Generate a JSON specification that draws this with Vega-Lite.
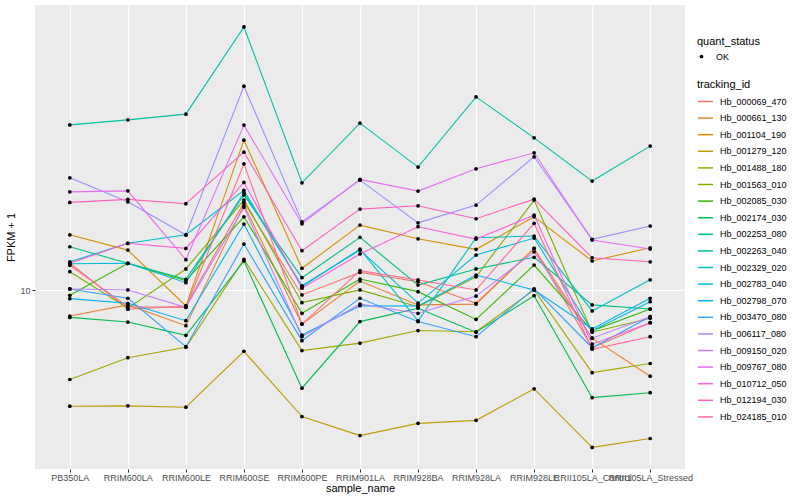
{
  "$schema": "https://vega.github.io/schema/vega-lite/v6.json",
  "autosize": {"type": "none"},
  "width": 650,
  "height": 464,
  "padding": {"left": 35, "top": 5, "right": 115, "bottom": 31},
  "background": "white",
  "config": {
    "font": "Liberation Sans",
    "view": {"fill": "#EBEBEB", "stroke": null},
    "axis": {
      "domain": false,
      "grid": true,
      "gridColor": "#FFFFFF",
      "gridWidth": 1.1,
      "tickColor": "#333333",
      "tickSize": 3,
      "labelColor": "#4D4D4D",
      "labelFontSize": 9,
      "titleFontSize": 11,
      "titleFontWeight": "normal",
      "titleColor": "#000000"
    },
    "legend": {
      "titleFontSize": 11,
      "titleFontWeight": "normal",
      "titleColor": "#000000",
      "labelFontSize": 9,
      "labelColor": "#000000"
    }
  },
  "data": {
    "values": [
      {"tracking_id": "Hb_000069_470", "sample_name": "PB350LA", "fpkm": 11.55, "quant_status": "OK"},
      {"tracking_id": "Hb_000069_470", "sample_name": "RRIM600LA", "fpkm": 9.05, "quant_status": "OK"},
      {"tracking_id": "Hb_000069_470", "sample_name": "RRIM600LE", "fpkm": 9.21, "quant_status": "OK"},
      {"tracking_id": "Hb_000069_470", "sample_name": "RRIM600SE", "fpkm": 15.89, "quant_status": "OK"},
      {"tracking_id": "Hb_000069_470", "sample_name": "RRIM600PE", "fpkm": 9.76, "quant_status": "OK"},
      {"tracking_id": "Hb_000069_470", "sample_name": "RRIM901LA", "fpkm": 10.99, "quant_status": "OK"},
      {"tracking_id": "Hb_000069_470", "sample_name": "RRIM928BA", "fpkm": 10.46, "quant_status": "OK"},
      {"tracking_id": "Hb_000069_470", "sample_name": "RRIM928LA", "fpkm": 9.34, "quant_status": "OK"},
      {"tracking_id": "Hb_000069_470", "sample_name": "RRIM928LE", "fpkm": 12.47, "quant_status": "OK"},
      {"tracking_id": "Hb_000069_470", "sample_name": "RRII105LA_Control", "fpkm": 7.39, "quant_status": "OK"},
      {"tracking_id": "Hb_000069_470", "sample_name": "RRII105LA_Stressed", "fpkm": 8.43, "quant_status": "OK"},

      {"tracking_id": "Hb_000661_130", "sample_name": "PB350LA", "fpkm": 8.73, "quant_status": "OK"},
      {"tracking_id": "Hb_000661_130", "sample_name": "RRIM600LA", "fpkm": 9.26, "quant_status": "OK"},
      {"tracking_id": "Hb_000661_130", "sample_name": "RRIM600LE", "fpkm": 8.30, "quant_status": "OK"},
      {"tracking_id": "Hb_000661_130", "sample_name": "RRIM600SE", "fpkm": 15.67, "quant_status": "OK"},
      {"tracking_id": "Hb_000661_130", "sample_name": "RRIM600PE", "fpkm": 8.37, "quant_status": "OK"},
      {"tracking_id": "Hb_000661_130", "sample_name": "RRIM901LA", "fpkm": 10.50, "quant_status": "OK"},
      {"tracking_id": "Hb_000661_130", "sample_name": "RRIM928BA", "fpkm": 9.26, "quant_status": "OK"},
      {"tracking_id": "Hb_000661_130", "sample_name": "RRIM928LA", "fpkm": 9.30, "quant_status": "OK"},
      {"tracking_id": "Hb_000661_130", "sample_name": "RRIM928LE", "fpkm": 12.47, "quant_status": "OK"},
      {"tracking_id": "Hb_000661_130", "sample_name": "RRII105LA_Control", "fpkm": 7.77, "quant_status": "OK"},
      {"tracking_id": "Hb_000661_130", "sample_name": "RRII105LA_Stressed", "fpkm": 6.36, "quant_status": "OK"},

      {"tracking_id": "Hb_001104_190", "sample_name": "PB350LA", "fpkm": 13.40, "quant_status": "OK"},
      {"tracking_id": "Hb_001104_190", "sample_name": "RRIM600LA", "fpkm": 12.36, "quant_status": "OK"},
      {"tracking_id": "Hb_001104_190", "sample_name": "RRIM600LE", "fpkm": 9.21, "quant_status": "OK"},
      {"tracking_id": "Hb_001104_190", "sample_name": "RRIM600SE", "fpkm": 22.06, "quant_status": "OK"},
      {"tracking_id": "Hb_001104_190", "sample_name": "RRIM600PE", "fpkm": 11.23, "quant_status": "OK"},
      {"tracking_id": "Hb_001104_190", "sample_name": "RRIM901LA", "fpkm": 14.10, "quant_status": "OK"},
      {"tracking_id": "Hb_001104_190", "sample_name": "RRIM928BA", "fpkm": 13.12, "quant_status": "OK"},
      {"tracking_id": "Hb_001104_190", "sample_name": "RRIM928LA", "fpkm": 12.41, "quant_status": "OK"},
      {"tracking_id": "Hb_001104_190", "sample_name": "RRIM928LE", "fpkm": 14.73, "quant_status": "OK"},
      {"tracking_id": "Hb_001104_190", "sample_name": "RRII105LA_Control", "fpkm": 11.67, "quant_status": "OK"},
      {"tracking_id": "Hb_001104_190", "sample_name": "RRII105LA_Stressed", "fpkm": 12.51, "quant_status": "OK"},

      {"tracking_id": "Hb_001279_120", "sample_name": "PB350LA", "fpkm": 5.43, "quant_status": "OK"},
      {"tracking_id": "Hb_001279_120", "sample_name": "RRIM600LA", "fpkm": 5.44, "quant_status": "OK"},
      {"tracking_id": "Hb_001279_120", "sample_name": "RRIM600LE", "fpkm": 5.40, "quant_status": "OK"},
      {"tracking_id": "Hb_001279_120", "sample_name": "RRIM600SE", "fpkm": 7.25, "quant_status": "OK"},
      {"tracking_id": "Hb_001279_120", "sample_name": "RRIM600PE", "fpkm": 5.14, "quant_status": "OK"},
      {"tracking_id": "Hb_001279_120", "sample_name": "RRIM901LA", "fpkm": 4.65, "quant_status": "OK"},
      {"tracking_id": "Hb_001279_120", "sample_name": "RRIM928BA", "fpkm": 4.96, "quant_status": "OK"},
      {"tracking_id": "Hb_001279_120", "sample_name": "RRIM928LA", "fpkm": 5.04, "quant_status": "OK"},
      {"tracking_id": "Hb_001279_120", "sample_name": "RRIM928LE", "fpkm": 5.95, "quant_status": "OK"},
      {"tracking_id": "Hb_001279_120", "sample_name": "RRII105LA_Control", "fpkm": 4.37, "quant_status": "OK"},
      {"tracking_id": "Hb_001279_120", "sample_name": "RRII105LA_Stressed", "fpkm": 4.58, "quant_status": "OK"},

      {"tracking_id": "Hb_001488_180", "sample_name": "PB350LA", "fpkm": 6.25, "quant_status": "OK"},
      {"tracking_id": "Hb_001488_180", "sample_name": "RRIM600LA", "fpkm": 7.01, "quant_status": "OK"},
      {"tracking_id": "Hb_001488_180", "sample_name": "RRIM600LE", "fpkm": 7.41, "quant_status": "OK"},
      {"tracking_id": "Hb_001488_180", "sample_name": "RRIM600SE", "fpkm": 11.77, "quant_status": "OK"},
      {"tracking_id": "Hb_001488_180", "sample_name": "RRIM600PE", "fpkm": 7.28, "quant_status": "OK"},
      {"tracking_id": "Hb_001488_180", "sample_name": "RRIM901LA", "fpkm": 7.57, "quant_status": "OK"},
      {"tracking_id": "Hb_001488_180", "sample_name": "RRIM928BA", "fpkm": 8.09, "quant_status": "OK"},
      {"tracking_id": "Hb_001488_180", "sample_name": "RRIM928LA", "fpkm": 8.04, "quant_status": "OK"},
      {"tracking_id": "Hb_001488_180", "sample_name": "RRIM928LE", "fpkm": 10.02, "quant_status": "OK"},
      {"tracking_id": "Hb_001488_180", "sample_name": "RRII105LA_Control", "fpkm": 6.48, "quant_status": "OK"},
      {"tracking_id": "Hb_001488_180", "sample_name": "RRII105LA_Stressed", "fpkm": 6.80, "quant_status": "OK"},

      {"tracking_id": "Hb_001563_010", "sample_name": "PB350LA", "fpkm": 11.03, "quant_status": "OK"},
      {"tracking_id": "Hb_001563_010", "sample_name": "RRIM600LA", "fpkm": 9.10, "quant_status": "OK"},
      {"tracking_id": "Hb_001563_010", "sample_name": "RRIM600LE", "fpkm": 11.19, "quant_status": "OK"},
      {"tracking_id": "Hb_001563_010", "sample_name": "RRIM600SE", "fpkm": 16.09, "quant_status": "OK"},
      {"tracking_id": "Hb_001563_010", "sample_name": "RRIM600PE", "fpkm": 9.37, "quant_status": "OK"},
      {"tracking_id": "Hb_001563_010", "sample_name": "RRIM901LA", "fpkm": 10.02, "quant_status": "OK"},
      {"tracking_id": "Hb_001563_010", "sample_name": "RRIM928BA", "fpkm": 9.17, "quant_status": "OK"},
      {"tracking_id": "Hb_001563_010", "sample_name": "RRIM928LA", "fpkm": 10.74, "quant_status": "OK"},
      {"tracking_id": "Hb_001563_010", "sample_name": "RRIM928LE", "fpkm": 16.09, "quant_status": "OK"},
      {"tracking_id": "Hb_001563_010", "sample_name": "RRII105LA_Control", "fpkm": 8.02, "quant_status": "OK"},
      {"tracking_id": "Hb_001563_010", "sample_name": "RRII105LA_Stressed", "fpkm": 8.63, "quant_status": "OK"},

      {"tracking_id": "Hb_002085_030", "sample_name": "PB350LA", "fpkm": 9.74, "quant_status": "OK"},
      {"tracking_id": "Hb_002085_030", "sample_name": "RRIM600LA", "fpkm": 11.53, "quant_status": "OK"},
      {"tracking_id": "Hb_002085_030", "sample_name": "RRIM600LE", "fpkm": 10.52, "quant_status": "OK"},
      {"tracking_id": "Hb_002085_030", "sample_name": "RRIM600SE", "fpkm": 14.73, "quant_status": "OK"},
      {"tracking_id": "Hb_002085_030", "sample_name": "RRIM600PE", "fpkm": 8.86, "quant_status": "OK"},
      {"tracking_id": "Hb_002085_030", "sample_name": "RRIM901LA", "fpkm": 10.61, "quant_status": "OK"},
      {"tracking_id": "Hb_002085_030", "sample_name": "RRIM928BA", "fpkm": 9.93, "quant_status": "OK"},
      {"tracking_id": "Hb_002085_030", "sample_name": "RRIM928LA", "fpkm": 8.58, "quant_status": "OK"},
      {"tracking_id": "Hb_002085_030", "sample_name": "RRIM928LE", "fpkm": 11.42, "quant_status": "OK"},
      {"tracking_id": "Hb_002085_030", "sample_name": "RRII105LA_Control", "fpkm": 8.08, "quant_status": "OK"},
      {"tracking_id": "Hb_002085_030", "sample_name": "RRII105LA_Stressed", "fpkm": 9.06, "quant_status": "OK"},

      {"tracking_id": "Hb_002174_030", "sample_name": "PB350LA", "fpkm": 8.67, "quant_status": "OK"},
      {"tracking_id": "Hb_002174_030", "sample_name": "RRIM600LA", "fpkm": 8.46, "quant_status": "OK"},
      {"tracking_id": "Hb_002174_030", "sample_name": "RRIM600LE", "fpkm": 7.89, "quant_status": "OK"},
      {"tracking_id": "Hb_002174_030", "sample_name": "RRIM600SE", "fpkm": 11.67, "quant_status": "OK"},
      {"tracking_id": "Hb_002174_030", "sample_name": "RRIM600PE", "fpkm": 5.97, "quant_status": "OK"},
      {"tracking_id": "Hb_002174_030", "sample_name": "RRIM901LA", "fpkm": 8.48, "quant_status": "OK"},
      {"tracking_id": "Hb_002174_030", "sample_name": "RRIM928BA", "fpkm": 9.10, "quant_status": "OK"},
      {"tracking_id": "Hb_002174_030", "sample_name": "RRIM928LA", "fpkm": 8.02, "quant_status": "OK"},
      {"tracking_id": "Hb_002174_030", "sample_name": "RRIM928LE", "fpkm": 9.72, "quant_status": "OK"},
      {"tracking_id": "Hb_002174_030", "sample_name": "RRII105LA_Control", "fpkm": 5.68, "quant_status": "OK"},
      {"tracking_id": "Hb_002174_030", "sample_name": "RRII105LA_Stressed", "fpkm": 5.83, "quant_status": "OK"},

      {"tracking_id": "Hb_002253_080", "sample_name": "PB350LA", "fpkm": 12.58, "quant_status": "OK"},
      {"tracking_id": "Hb_002253_080", "sample_name": "RRIM600LA", "fpkm": 11.53, "quant_status": "OK"},
      {"tracking_id": "Hb_002253_080", "sample_name": "RRIM600LE", "fpkm": 10.60, "quant_status": "OK"},
      {"tracking_id": "Hb_002253_080", "sample_name": "RRIM600SE", "fpkm": 16.52, "quant_status": "OK"},
      {"tracking_id": "Hb_002253_080", "sample_name": "RRIM600PE", "fpkm": 10.69, "quant_status": "OK"},
      {"tracking_id": "Hb_002253_080", "sample_name": "RRIM901LA", "fpkm": 13.22, "quant_status": "OK"},
      {"tracking_id": "Hb_002253_080", "sample_name": "RRIM928BA", "fpkm": 10.28, "quant_status": "OK"},
      {"tracking_id": "Hb_002253_080", "sample_name": "RRIM928LA", "fpkm": 11.19, "quant_status": "OK"},
      {"tracking_id": "Hb_002253_080", "sample_name": "RRIM928LE", "fpkm": 11.90, "quant_status": "OK"},
      {"tracking_id": "Hb_002253_080", "sample_name": "RRII105LA_Control", "fpkm": 9.26, "quant_status": "OK"},
      {"tracking_id": "Hb_002253_080", "sample_name": "RRII105LA_Stressed", "fpkm": 9.06, "quant_status": "OK"},

      {"tracking_id": "Hb_002263_040", "sample_name": "PB350LA", "fpkm": 23.91, "quant_status": "OK"},
      {"tracking_id": "Hb_002263_040", "sample_name": "RRIM600LA", "fpkm": 24.55, "quant_status": "OK"},
      {"tracking_id": "Hb_002263_040", "sample_name": "RRIM600LE", "fpkm": 25.30, "quant_status": "OK"},
      {"tracking_id": "Hb_002263_040", "sample_name": "RRIM600SE", "fpkm": 40.06, "quant_status": "OK"},
      {"tracking_id": "Hb_002263_040", "sample_name": "RRIM600PE", "fpkm": 17.62, "quant_status": "OK"},
      {"tracking_id": "Hb_002263_040", "sample_name": "RRIM901LA", "fpkm": 24.13, "quant_status": "OK"},
      {"tracking_id": "Hb_002263_040", "sample_name": "RRIM928BA", "fpkm": 19.14, "quant_status": "OK"},
      {"tracking_id": "Hb_002263_040", "sample_name": "RRIM928LA", "fpkm": 27.71, "quant_status": "OK"},
      {"tracking_id": "Hb_002263_040", "sample_name": "RRIM928LE", "fpkm": 22.33, "quant_status": "OK"},
      {"tracking_id": "Hb_002263_040", "sample_name": "RRII105LA_Control", "fpkm": 17.78, "quant_status": "OK"},
      {"tracking_id": "Hb_002263_040", "sample_name": "RRII105LA_Stressed", "fpkm": 21.38, "quant_status": "OK"},

      {"tracking_id": "Hb_002329_020", "sample_name": "PB350LA", "fpkm": 11.62, "quant_status": "OK"},
      {"tracking_id": "Hb_002329_020", "sample_name": "RRIM600LA", "fpkm": 12.81, "quant_status": "OK"},
      {"tracking_id": "Hb_002329_020", "sample_name": "RRIM600LE", "fpkm": 13.40, "quant_status": "OK"},
      {"tracking_id": "Hb_002329_020", "sample_name": "RRIM600SE", "fpkm": 16.94, "quant_status": "OK"},
      {"tracking_id": "Hb_002329_020", "sample_name": "RRIM600PE", "fpkm": 10.19, "quant_status": "OK"},
      {"tracking_id": "Hb_002329_020", "sample_name": "RRIM901LA", "fpkm": 12.43, "quant_status": "OK"},
      {"tracking_id": "Hb_002329_020", "sample_name": "RRIM928BA", "fpkm": 8.51, "quant_status": "OK"},
      {"tracking_id": "Hb_002329_020", "sample_name": "RRIM928LA", "fpkm": 13.19, "quant_status": "OK"},
      {"tracking_id": "Hb_002329_020", "sample_name": "RRIM928LE", "fpkm": 13.31, "quant_status": "OK"},
      {"tracking_id": "Hb_002329_020", "sample_name": "RRII105LA_Control", "fpkm": 8.97, "quant_status": "OK"},
      {"tracking_id": "Hb_002329_020", "sample_name": "RRII105LA_Stressed", "fpkm": 10.57, "quant_status": "OK"},

      {"tracking_id": "Hb_002783_040", "sample_name": "PB350LA", "fpkm": 11.50, "quant_status": "OK"},
      {"tracking_id": "Hb_002783_040", "sample_name": "RRIM600LA", "fpkm": 11.53, "quant_status": "OK"},
      {"tracking_id": "Hb_002783_040", "sample_name": "RRIM600LE", "fpkm": 10.41, "quant_status": "OK"},
      {"tracking_id": "Hb_002783_040", "sample_name": "RRIM600SE", "fpkm": 16.72, "quant_status": "OK"},
      {"tracking_id": "Hb_002783_040", "sample_name": "RRIM600PE", "fpkm": 10.24, "quant_status": "OK"},
      {"tracking_id": "Hb_002783_040", "sample_name": "RRIM901LA", "fpkm": 12.36, "quant_status": "OK"},
      {"tracking_id": "Hb_002783_040", "sample_name": "RRIM928BA", "fpkm": 9.35, "quant_status": "OK"},
      {"tracking_id": "Hb_002783_040", "sample_name": "RRIM928LA", "fpkm": 12.04, "quant_status": "OK"},
      {"tracking_id": "Hb_002783_040", "sample_name": "RRIM928LE", "fpkm": 13.17, "quant_status": "OK"},
      {"tracking_id": "Hb_002783_040", "sample_name": "RRII105LA_Control", "fpkm": 8.08, "quant_status": "OK"},
      {"tracking_id": "Hb_002783_040", "sample_name": "RRII105LA_Stressed", "fpkm": 9.42, "quant_status": "OK"},

      {"tracking_id": "Hb_002798_070", "sample_name": "PB350LA", "fpkm": 9.57, "quant_status": "OK"},
      {"tracking_id": "Hb_002798_070", "sample_name": "RRIM600LA", "fpkm": 9.34, "quant_status": "OK"},
      {"tracking_id": "Hb_002798_070", "sample_name": "RRIM600LE", "fpkm": 8.52, "quant_status": "OK"},
      {"tracking_id": "Hb_002798_070", "sample_name": "RRIM600SE", "fpkm": 14.18, "quant_status": "OK"},
      {"tracking_id": "Hb_002798_070", "sample_name": "RRIM600PE", "fpkm": 7.90, "quant_status": "OK"},
      {"tracking_id": "Hb_002798_070", "sample_name": "RRIM901LA", "fpkm": 9.22, "quant_status": "OK"},
      {"tracking_id": "Hb_002798_070", "sample_name": "RRIM928BA", "fpkm": 9.21, "quant_status": "OK"},
      {"tracking_id": "Hb_002798_070", "sample_name": "RRIM928LA", "fpkm": 10.84, "quant_status": "OK"},
      {"tracking_id": "Hb_002798_070", "sample_name": "RRIM928LE", "fpkm": 10.02, "quant_status": "OK"},
      {"tracking_id": "Hb_002798_070", "sample_name": "RRII105LA_Control", "fpkm": 8.16, "quant_status": "OK"},
      {"tracking_id": "Hb_002798_070", "sample_name": "RRII105LA_Stressed", "fpkm": 9.59, "quant_status": "OK"},

      {"tracking_id": "Hb_003470_080", "sample_name": "PB350LA", "fpkm": 10.07, "quant_status": "OK"},
      {"tracking_id": "Hb_003470_080", "sample_name": "RRIM600LA", "fpkm": 9.59, "quant_status": "OK"},
      {"tracking_id": "Hb_003470_080", "sample_name": "RRIM600LE", "fpkm": 7.43, "quant_status": "OK"},
      {"tracking_id": "Hb_003470_080", "sample_name": "RRIM600SE", "fpkm": 12.76, "quant_status": "OK"},
      {"tracking_id": "Hb_003470_080", "sample_name": "RRIM600PE", "fpkm": 7.67, "quant_status": "OK"},
      {"tracking_id": "Hb_003470_080", "sample_name": "RRIM901LA", "fpkm": 9.59, "quant_status": "OK"},
      {"tracking_id": "Hb_003470_080", "sample_name": "RRIM928BA", "fpkm": 8.48, "quant_status": "OK"},
      {"tracking_id": "Hb_003470_080", "sample_name": "RRIM928LA", "fpkm": 7.83, "quant_status": "OK"},
      {"tracking_id": "Hb_003470_080", "sample_name": "RRIM928LE", "fpkm": 10.08, "quant_status": "OK"},
      {"tracking_id": "Hb_003470_080", "sample_name": "RRII105LA_Control", "fpkm": 7.39, "quant_status": "OK"},
      {"tracking_id": "Hb_003470_080", "sample_name": "RRII105LA_Stressed", "fpkm": 8.70, "quant_status": "OK"},

      {"tracking_id": "Hb_006117_080", "sample_name": "PB350LA", "fpkm": 18.09, "quant_status": "OK"},
      {"tracking_id": "Hb_006117_080", "sample_name": "RRIM600LA", "fpkm": 15.94, "quant_status": "OK"},
      {"tracking_id": "Hb_006117_080", "sample_name": "RRIM600LE", "fpkm": 13.38, "quant_status": "OK"},
      {"tracking_id": "Hb_006117_080", "sample_name": "RRIM600SE", "fpkm": 29.32, "quant_status": "OK"},
      {"tracking_id": "Hb_006117_080", "sample_name": "RRIM600PE", "fpkm": 14.35, "quant_status": "OK"},
      {"tracking_id": "Hb_006117_080", "sample_name": "RRIM901LA", "fpkm": 17.87, "quant_status": "OK"},
      {"tracking_id": "Hb_006117_080", "sample_name": "RRIM928BA", "fpkm": 14.27, "quant_status": "OK"},
      {"tracking_id": "Hb_006117_080", "sample_name": "RRIM928LA", "fpkm": 15.67, "quant_status": "OK"},
      {"tracking_id": "Hb_006117_080", "sample_name": "RRIM928LE", "fpkm": 20.21, "quant_status": "OK"},
      {"tracking_id": "Hb_006117_080", "sample_name": "RRII105LA_Control", "fpkm": 13.08, "quant_status": "OK"},
      {"tracking_id": "Hb_006117_080", "sample_name": "RRII105LA_Stressed", "fpkm": 14.03, "quant_status": "OK"},

      {"tracking_id": "Hb_009150_020", "sample_name": "PB350LA", "fpkm": 10.07, "quant_status": "OK"},
      {"tracking_id": "Hb_009150_020", "sample_name": "RRIM600LA", "fpkm": 10.02, "quant_status": "OK"},
      {"tracking_id": "Hb_009150_020", "sample_name": "RRIM600LE", "fpkm": 9.14, "quant_status": "OK"},
      {"tracking_id": "Hb_009150_020", "sample_name": "RRIM600SE", "fpkm": 15.48, "quant_status": "OK"},
      {"tracking_id": "Hb_009150_020", "sample_name": "RRIM600PE", "fpkm": 7.83, "quant_status": "OK"},
      {"tracking_id": "Hb_009150_020", "sample_name": "RRIM901LA", "fpkm": 9.30, "quant_status": "OK"},
      {"tracking_id": "Hb_009150_020", "sample_name": "RRIM928BA", "fpkm": 8.86, "quant_status": "OK"},
      {"tracking_id": "Hb_009150_020", "sample_name": "RRIM928LA", "fpkm": 9.70, "quant_status": "OK"},
      {"tracking_id": "Hb_009150_020", "sample_name": "RRIM928LE", "fpkm": 12.25, "quant_status": "OK"},
      {"tracking_id": "Hb_009150_020", "sample_name": "RRII105LA_Control", "fpkm": 7.77, "quant_status": "OK"},
      {"tracking_id": "Hb_009150_020", "sample_name": "RRII105LA_Stressed", "fpkm": 8.70, "quant_status": "OK"},

      {"tracking_id": "Hb_009767_080", "sample_name": "PB350LA", "fpkm": 16.80, "quant_status": "OK"},
      {"tracking_id": "Hb_009767_080", "sample_name": "RRIM600LA", "fpkm": 16.89, "quant_status": "OK"},
      {"tracking_id": "Hb_009767_080", "sample_name": "RRIM600LE", "fpkm": 11.75, "quant_status": "OK"},
      {"tracking_id": "Hb_009767_080", "sample_name": "RRIM600SE", "fpkm": 23.88, "quant_status": "OK"},
      {"tracking_id": "Hb_009767_080", "sample_name": "RRIM600PE", "fpkm": 14.20, "quant_status": "OK"},
      {"tracking_id": "Hb_009767_080", "sample_name": "RRIM901LA", "fpkm": 17.94, "quant_status": "OK"},
      {"tracking_id": "Hb_009767_080", "sample_name": "RRIM928BA", "fpkm": 16.87, "quant_status": "OK"},
      {"tracking_id": "Hb_009767_080", "sample_name": "RRIM928LA", "fpkm": 18.97, "quant_status": "OK"},
      {"tracking_id": "Hb_009767_080", "sample_name": "RRIM928LE", "fpkm": 20.64, "quant_status": "OK"},
      {"tracking_id": "Hb_009767_080", "sample_name": "RRII105LA_Control", "fpkm": 13.03, "quant_status": "OK"},
      {"tracking_id": "Hb_009767_080", "sample_name": "RRII105LA_Stressed", "fpkm": 12.43, "quant_status": "OK"},

      {"tracking_id": "Hb_010712_050", "sample_name": "PB350LA", "fpkm": 11.53, "quant_status": "OK"},
      {"tracking_id": "Hb_010712_050", "sample_name": "RRIM600LA", "fpkm": 12.81, "quant_status": "OK"},
      {"tracking_id": "Hb_010712_050", "sample_name": "RRIM600LE", "fpkm": 12.47, "quant_status": "OK"},
      {"tracking_id": "Hb_010712_050", "sample_name": "RRIM600SE", "fpkm": 17.66, "quant_status": "OK"},
      {"tracking_id": "Hb_010712_050", "sample_name": "RRIM600PE", "fpkm": 10.11, "quant_status": "OK"},
      {"tracking_id": "Hb_010712_050", "sample_name": "RRIM901LA", "fpkm": 12.11, "quant_status": "OK"},
      {"tracking_id": "Hb_010712_050", "sample_name": "RRIM928BA", "fpkm": 13.98, "quant_status": "OK"},
      {"tracking_id": "Hb_010712_050", "sample_name": "RRIM928LA", "fpkm": 13.10, "quant_status": "OK"},
      {"tracking_id": "Hb_010712_050", "sample_name": "RRIM928LE", "fpkm": 14.86, "quant_status": "OK"},
      {"tracking_id": "Hb_010712_050", "sample_name": "RRII105LA_Control", "fpkm": 7.53, "quant_status": "OK"},
      {"tracking_id": "Hb_010712_050", "sample_name": "RRII105LA_Stressed", "fpkm": 8.43, "quant_status": "OK"},

      {"tracking_id": "Hb_012194_030", "sample_name": "PB350LA", "fpkm": 15.89, "quant_status": "OK"},
      {"tracking_id": "Hb_012194_030", "sample_name": "RRIM600LA", "fpkm": 16.15, "quant_status": "OK"},
      {"tracking_id": "Hb_012194_030", "sample_name": "RRIM600LE", "fpkm": 15.78, "quant_status": "OK"},
      {"tracking_id": "Hb_012194_030", "sample_name": "RRIM600SE", "fpkm": 20.71, "quant_status": "OK"},
      {"tracking_id": "Hb_012194_030", "sample_name": "RRIM600PE", "fpkm": 12.32, "quant_status": "OK"},
      {"tracking_id": "Hb_012194_030", "sample_name": "RRIM901LA", "fpkm": 15.34, "quant_status": "OK"},
      {"tracking_id": "Hb_012194_030", "sample_name": "RRIM928BA", "fpkm": 15.61, "quant_status": "OK"},
      {"tracking_id": "Hb_012194_030", "sample_name": "RRIM928LA", "fpkm": 14.58, "quant_status": "OK"},
      {"tracking_id": "Hb_012194_030", "sample_name": "RRIM928LE", "fpkm": 16.17, "quant_status": "OK"},
      {"tracking_id": "Hb_012194_030", "sample_name": "RRII105LA_Control", "fpkm": 11.87, "quant_status": "OK"},
      {"tracking_id": "Hb_012194_030", "sample_name": "RRII105LA_Stressed", "fpkm": 11.62, "quant_status": "OK"},

      {"tracking_id": "Hb_024185_010", "sample_name": "PB350LA", "fpkm": 11.41, "quant_status": "OK"},
      {"tracking_id": "Hb_024185_010", "sample_name": "RRIM600LA", "fpkm": 9.17, "quant_status": "OK"},
      {"tracking_id": "Hb_024185_010", "sample_name": "RRIM600LE", "fpkm": 9.14, "quant_status": "OK"},
      {"tracking_id": "Hb_024185_010", "sample_name": "RRIM600SE", "fpkm": 19.48, "quant_status": "OK"},
      {"tracking_id": "Hb_024185_010", "sample_name": "RRIM600PE", "fpkm": 8.37, "quant_status": "OK"},
      {"tracking_id": "Hb_024185_010", "sample_name": "RRIM901LA", "fpkm": 11.09, "quant_status": "OK"},
      {"tracking_id": "Hb_024185_010", "sample_name": "RRIM928BA", "fpkm": 10.56, "quant_status": "OK"},
      {"tracking_id": "Hb_024185_010", "sample_name": "RRIM928LA", "fpkm": 10.02, "quant_status": "OK"},
      {"tracking_id": "Hb_024185_010", "sample_name": "RRIM928LE", "fpkm": 14.23, "quant_status": "OK"},
      {"tracking_id": "Hb_024185_010", "sample_name": "RRII105LA_Control", "fpkm": 7.33, "quant_status": "OK"},
      {"tracking_id": "Hb_024185_010", "sample_name": "RRII105LA_Stressed", "fpkm": 7.83, "quant_status": "OK"}
    ]
  },
  "encoding": {
    "x": {
      "field": "sample_name",
      "type": "nominal",
      "sort": ["PB350LA", "RRIM600LA", "RRIM600LE", "RRIM600SE", "RRIM600PE", "RRIM901LA", "RRIM928BA", "RRIM928LA", "RRIM928LE", "RRII105LA_Control", "RRII105LA_Stressed"],
      "scale": {"type": "point", "padding": 0.6},
      "axis": {"labelAngle": 0, "labelOverlap": false, "labelPadding": 1, "title": "sample_name", "titlePadding": 0, "labelBound": false}
    },
    "y": {
      "field": "fpkm",
      "type": "quantitative",
      "scale": {"type": "log", "domain": [3.90, 44.97], "nice": false, "zero": false},
      "axis": {"values": [10], "title": "FPKM + 1", "labelPadding": 2, "titlePadding": 3}
    }
  },
  "layer": [
    {
      "mark": {"type": "line", "strokeWidth": 1.1},
      "encoding": {
        "color": {
          "field": "tracking_id",
          "type": "nominal",
          "title": "tracking_id",
          "scale": {
            "domain": ["Hb_000069_470", "Hb_000661_130", "Hb_001104_190", "Hb_001279_120", "Hb_001488_180", "Hb_001563_010", "Hb_002085_030", "Hb_002174_030", "Hb_002253_080", "Hb_002263_040", "Hb_002329_020", "Hb_002783_040", "Hb_002798_070", "Hb_003470_080", "Hb_006117_080", "Hb_009150_020", "Hb_009767_080", "Hb_010712_050", "Hb_012194_030", "Hb_024185_010"],
            "range": ["#F8766D", "#EA8331", "#D89000", "#C09B00", "#A3A500", "#7CAE00", "#39B600", "#00BB4E", "#00BF7D", "#00C1A3", "#00BFC4", "#00BAE0", "#00B0F6", "#35A2FF", "#9590FF", "#C77CFF", "#E76BF3", "#FA62DB", "#FF62BC", "#FF6C91"]
          },
          "legend": {
            "orient": "none",
            "legendX": 662,
            "legendY": 74,
            "symbolType": "stroke",
            "symbolSize": 225,
            "symbolStrokeWidth": 1.5,
            "rowPadding": 2.6,
            "titlePadding": 3,
            "labelOffset": 6
          }
        }
      }
    },
    {
      "mark": {"type": "point", "filled": true, "size": 14, "opacity": 1, "color": "#000000"},
      "encoding": {
        "shape": {
          "field": "quant_status",
          "type": "nominal",
          "title": "quant_status",
          "scale": {"range": ["circle"]},
          "legend": {
            "orient": "none",
            "legendX": 662,
            "legendY": 31,
            "symbolSize": 14,
            "symbolFillColor": "#000000",
            "symbolStrokeColor": "#000000",
            "titlePadding": 5,
            "labelOffset": 10
          }
        }
      }
    }
  ]
}
